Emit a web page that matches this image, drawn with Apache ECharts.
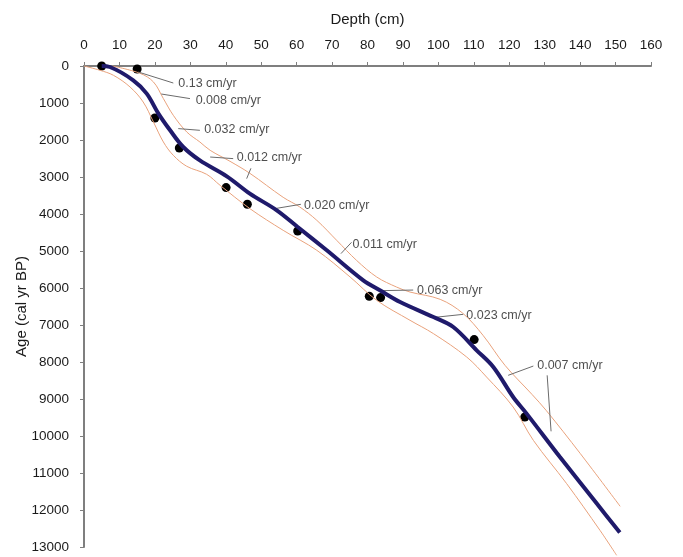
<head>
    <meta charset="utf-8">
    <title>Age-depth model</title>
    <script src="https://cdn.jsdelivr.net/npm/echarts@6/dist/echarts.min.js"></script>
</head>

<body style="margin:0">
    <div id="main" style="width: 683px; height: 557px;"></div>

    <script type="text/javascript">

        // dated samples [depth cm, age cal yr BP]
        const dates = [
            [5, 0], [15, 80], [20, 1405], [26.9, 2216], [40.1, 3286], [46.1, 3738],
            [60.3, 4459], [80.5, 6224], [83.7, 6259], [110.1, 7395], [124.4, 9486]
        ]

        // age-depth model
        const model = [
            [5, 0], [7.3, 27], [13.9, 386], [17.7, 746], [21, 1286], [24.3, 1738], [28, 2189],
            [32.7, 2551], [40.3, 2981], [46.8, 3449], [54.4, 3900], [60.3, 4351], [68.5, 4981],
            [78.8, 5792], [83.5, 6062], [89.2, 6378], [98.6, 6784], [104.2, 7054], [110.8, 7684],
            [115.5, 8135], [121.1, 8946], [124.9, 9395], [134.3, 10568], [144.7, 11827], [151.2, 12611]
        ]

        // confidence bounds
        const upper = [
            [8, 0], [15.8, 197], [19.6, 432], [22.4, 881], [25.2, 1333], [29, 1784], [32.7, 2054],
            [35.6, 2279], [41.2, 2576], [46.8, 2900], [56.2, 3549], [60.9, 3811], [65.7, 4171],
            [71.3, 4711], [76.9, 5252], [82.6, 5703], [88.2, 5974], [92, 6109], [100.5, 6306],
            [106.9, 6684], [112.6, 7279], [118.8, 8090], [126.4, 8874], [130.4, 9306],
            [140, 10469], [151.3, 11901]
        ]
        const lower = [
            [0, 0], [4.5, 116], [8.3, 251], [13, 568], [16.7, 973], [19.6, 1514], [22.4, 2054],
            [25.2, 2414], [29, 2711], [34.6, 2927], [38.4, 3225], [46.8, 3854], [56.2, 4441],
            [65.7, 4981], [75.1, 5703], [82.6, 6333], [92, 6873], [98.6, 7233], [108, 7866],
            [113.6, 8406], [121.1, 9217], [126.8, 10117], [136.2, 11288], [145.6, 12549], [150.3, 13225]
        ]

        // sedimentation rate labels and their leader lines
        const rateText = ['0.13 cm/yr', '0.008 cm/yr', '0.032 cm/yr', '0.012 cm/yr', '0.020 cm/yr',
            '0.011 cm/yr', '0.063 cm/yr', '0.023 cm/yr', '0.007 cm/yr']
        const ratePos = [
            [26.6, 468], [31.5, 927], [33.9, 1719], [43.1, 2476], [62.1, 3779],
            [75.8, 4819], [94.0, 6082], [107.9, 6739], [127.9, 8109]
        ]
        const leaders = [
            [[15.3, 162], [25.2, 460]],
            [[21.8, 757], [29.9, 881]],
            [[26.6, 1692], [32.7, 1738]],
            [[35.6, 2460], [42.1, 2503]],
            [[47.1, 2765], [45.9, 3044]],
            [[53.9, 3854], [61.2, 3738]],
            [[72.5, 5071], [75.5, 4765]],
            [[84.2, 6071], [92.9, 6055]],
            [[99.0, 6793], [107.0, 6712]],
            [[119.7, 8360], [126.8, 8109]],
            [[130.7, 8360], [131.8, 9874]]
        ]

        const font = 'Liberation Sans, Arial, sans-serif'
        const axisColor = '#7f7f7f'

        var myChart = echarts.init(document.getElementById('main'));

        option = {
            animation: false,
            textStyle: { fontFamily: font },
            grid: { left: 84, right: 32, top: 66, bottom: 10 },
            xAxis: {
                type: 'value',
                position: 'top',
                min: 0, max: 160, interval: 10,
                name: 'Depth (cm)',
                nameLocation: 'middle',
                nameGap: 39,
                nameTextStyle: { fontSize: 15, color: '#1a1a1a', fontFamily: font },
                axisLine: { show: true, lineStyle: { color: axisColor, width: 2 } },
                axisTick: { show: true, length: 4, lineStyle: { color: axisColor } },
                axisLabel: { fontSize: 13.5, color: '#1a1a1a', margin: 14, fontFamily: font },
                splitLine: { show: false }
            },
            yAxis: {
                type: 'value',
                inverse: true,
                min: 0, max: 13000, interval: 1000,
                name: 'Age (cal yr BP)',
                nameLocation: 'middle',
                nameGap: 55,
                nameMoveOverlap: false,
                nameTextStyle: { fontSize: 15, color: '#1a1a1a', fontFamily: font },
                axisLine: { show: true, lineStyle: { color: axisColor, width: 2 } },
                axisTick: { show: true, length: 4, lineStyle: { color: axisColor } },
                axisLabel: { fontSize: 13.5, color: '#1a1a1a', margin: 15, fontFamily: font, formatter: v => String(v) },
                splitLine: { show: false }
            },
            series: [
                {
                    type: 'line', data: upper, smooth: 0.35, symbol: 'none', clip: false,
                    lineStyle: { color: '#e9a27c', width: 1 }
                },
                {
                    type: 'line', data: lower, smooth: 0.35, symbol: 'none', clip: false,
                    lineStyle: { color: '#e9a27c', width: 1 }
                },
                ...leaders.map(seg => ({
                    type: 'line', data: seg, symbol: 'none', clip: false,
                    lineStyle: { color: '#6b6b6b', width: 1 }
                })),
                {
                    type: 'line', data: model, smooth: 0.35, symbol: 'none', clip: false,
                    lineStyle: { color: '#1f1a6b', width: 4 }
                },
                {
                    type: 'scatter', data: dates, symbolSize: 9,
                    itemStyle: { color: '#000000', opacity: 1 }
                },
                {
                    type: 'scatter', symbolSize: 0,
                    data: ratePos.map((p, i) => ({ value: p, name: rateText[i] })),
                    label: {
                        show: true, position: 'right', distance: 0,
                        formatter: p => p.name,
                        fontSize: 12.5, color: '#222222', fontFamily: font
                    }
                }
            ]
        };

        myChart.setOption(option);
    </script>
</body>
